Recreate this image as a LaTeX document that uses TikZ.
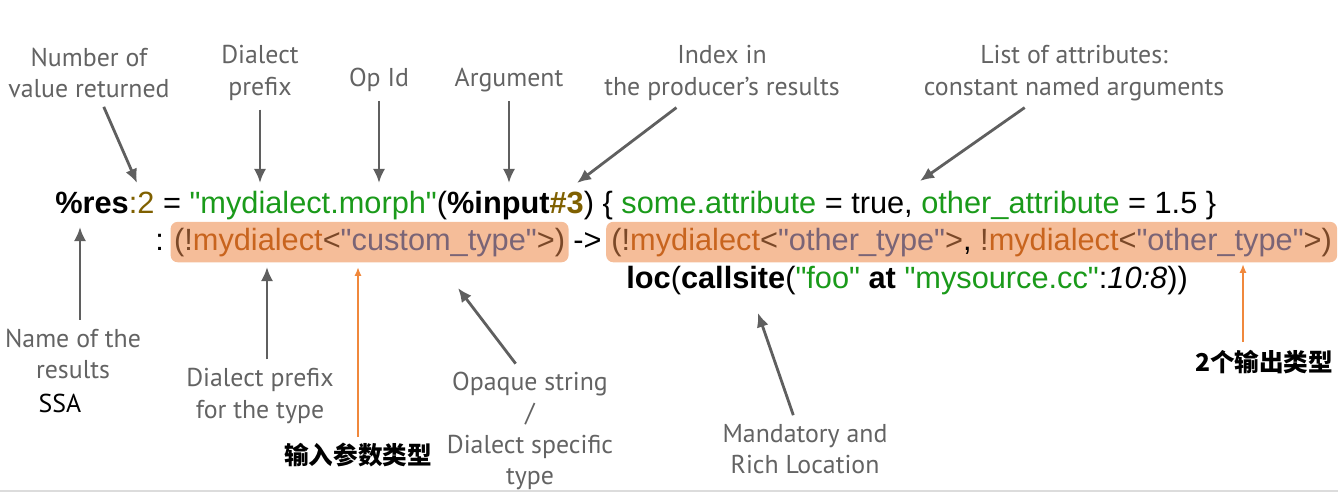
\documentclass[tikz,border=0pt]{standalone}
\usepackage{fontspec}
\usepackage{xcolor}
\usepackage{tikz}
\usetikzlibrary{arrows.meta,positioning}
\setmainfont{Liberation Sans}
\newfontfamily\codefont{Liberation Sans}
\newfontfamily\labelfont{PT Sans}
\newfontfamily\cjkfont{Noto Sans CJK SC}
\definecolor{labelgrey}{HTML}{636363}
\definecolor{arrowgrey}{HTML}{5F5F5F}
\definecolor{noteorange}{HTML}{F0883C}
\definecolor{typebox}{HTML}{F5BD99}
\definecolor{codegreen}{HTML}{1A9A1A}
\definecolor{codeolive}{HTML}{7F6000}
\definecolor{codebrown}{HTML}{7A4828}
\definecolor{codedia}{HTML}{C8641E}
\definecolor{codetype}{HTML}{7A6476}
\definecolor{sepgrey}{HTML}{DCDCDC}
\newcommand{\cstr}[1]{\textcolor{codegreen}{#1}}
\newcommand{\cnum}[1]{\textcolor{codeolive}{#1}}
\newcommand{\cpar}[1]{\textcolor{codebrown}{#1}}
\newcommand{\cdia}[1]{\textcolor{codedia}{#1}}
\newcommand{\ctyp}[1]{\textcolor{codetype}{#1}}
\tikzset{
  code/.style={font=\codefont\fontsize{17.5}{21}\selectfont, inner sep=0pt},
  note/.style={font=\labelfont\fontsize{14.7}{18}\selectfont, text=labelgrey, align=center, inner sep=2pt},
  cjknote/.style={font=\cjkfont\bfseries\fontsize{14}{17}\selectfont, text=black, inner sep=1pt},
  typebg/.style={code, fill=typebox, rounded corners=4pt, inner xsep=2pt, minimum height=23pt},
  ptr/.style={draw=arrowgrey, line width=1.6pt, -{Latex[length=8pt,width=7pt]}, shorten <=3pt},
  optr/.style={draw=noteorange, line width=1.1pt, -{Latex[length=5pt,width=4pt]}},
}
\begin{document}
\begin{tikzpicture}[x=0.02cm, y=-0.02cm]
  \useasboundingbox (0,0) rectangle (1338,497);
  % the operation, three lines
  \node[code, anchor=base west] (line1) at (55,213) {\textbf{\%res}\cnum{:2} = \cstr{"mydialect.morph"}(\textbf{\%input\cnum{\#3}}) \{ \cstr{some.attribute} = true, \cstr{other\_attribute} = 1.5 \}};
  \node[code, anchor=base west] (colon) at (155,250) {:};
  \node[typebg, base right=6 of colon] (intype) {\cpar{(!}\cdia{mydialect}\cpar{<}\ctyp{"custom\_type"}\cpar{>)}};
  \node[code, base right=4 of intype] (arrowop) {->};
  \node[typebg, base right=4 of arrowop, inner xsep=3pt] (outtype) {\cpar{(!}\cdia{mydialect}\cpar{<}\ctyp{"other\_type"}\cpar{>}, \cpar{!}\cdia{mydialect}\cpar{<}\ctyp{"other\_type"}\cpar{>)}};
  \node[code, anchor=base west] (line3) at (626,288) {\textbf{loc}(\textbf{callsite}(\cstr{"foo"} \textbf{at} \cstr{"mysource.cc"}:\textit{10:8}))};

  % labels above
  \node[note] (nret) at (89,73) {Number of\\value returned};
  \node[note] (dpre) at (260,73) {Dialect\\prefix};
  \node[note] (opid) at (379,80) {Op Id};
  \node[note] (argu) at (509,80) {Argument};
  \node[note] (idx) at (722,73) {Index in\\the producer’s results};
  \node[note] (attr) at (1074,73) {List of attributes:\\constant named arguments};
  \coordinate (t-nret) at (137,183);
  \coordinate (t-dpre) at (260,183);
  \coordinate (t-opid) at (379,183);
  \coordinate (t-argu) at (509,183);
  \coordinate (t-idx) at (577,183);
  \coordinate (t-attr) at (920,181);
  \draw[ptr] (nret) -- (t-nret);
  \draw[ptr] (dpre) -- (t-dpre);
  \draw[ptr] (opid) -- (t-opid);
  \draw[ptr] (argu) -- (t-argu);
  \draw[ptr] (idx) -- (t-idx);
  \draw[ptr] (attr) -- (t-attr);

  % labels below
  \node[note] (name) at (73,354) {Name of the\\results};
  \node[note, text=black] (ssa) at (60,403) {SSA};
  \node[note] (dtyp) at (260,396) {Dialect prefix\\for the type};
  \node[note] (opaq) at (530,431) {Opaque string\\/\\Dialect specific\\type};
  \node[note] (mand) at (805,449) {Mandatory and\\Rich Location};
  \node[cjknote] (cin) at (358,455) {输入参数类型};
  \node[cjknote] (cout) at (1264,362) {2个输出类型};
  \coordinate (t-name) at (80,227);
  \coordinate (t-dtyp) at (267,267);
  \coordinate (t-opaq) at (458,288);
  \coordinate (t-mand) at (758,313);
  \coordinate (t-cin) at (358,267);
  \coordinate (t-cout) at (1243,264);
  \draw[ptr] (name.north -| t-name) -- (t-name);
  \draw[ptr] (dtyp.north -| t-dtyp) -- (t-dtyp);
  \draw[ptr] (opaq.100) -- (t-opaq);
  \draw[ptr] (mand) -- (t-mand);
  \draw[optr] (cin.north -| t-cin) ++(0,-4) -- (t-cin);
  \draw[optr] (cout.north -| t-cout) ++(0,-6) -- (t-cout);

  \draw[sepgrey, line width=1.5pt] (0,491) -- (1338,491);
\end{tikzpicture}
\end{document}
